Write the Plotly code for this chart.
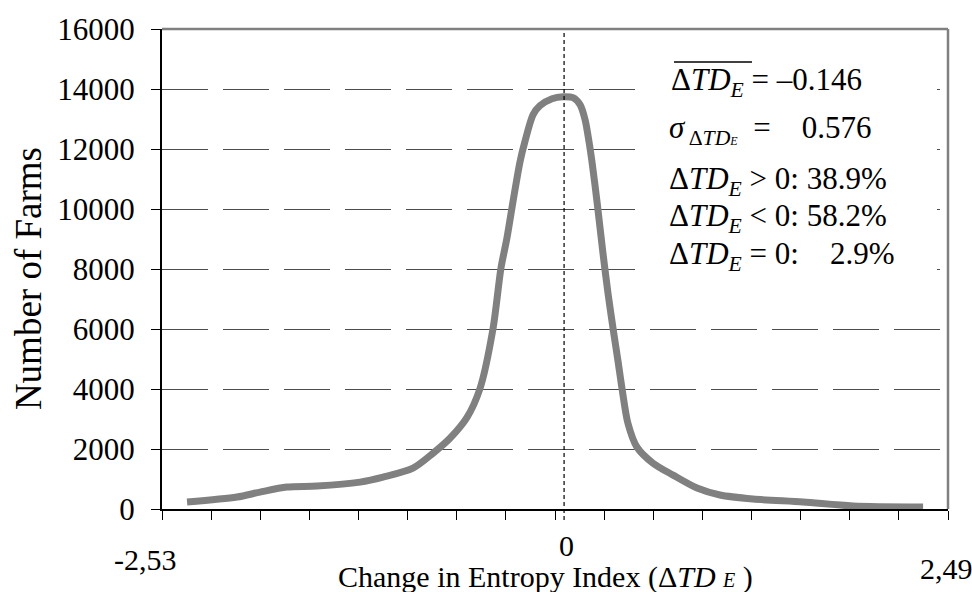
import numpy as np
import plotly.graph_objects as go

# ---- data ----
change_entropy = [-2.408, -2.089, -1.942, -1.770, -1.578, -1.303, -1.156, -0.965,
                  -0.837, -0.729, -0.620, -0.537, -0.454, -0.403, -0.365, -0.326,
                  -0.281, -0.250, -0.198, -0.154, -0.077, -0.007, 0.057, 0.102,
                  0.134, 0.159, 0.178, 0.210, 0.249, 0.281, 0.313, 0.344, 0.370,
                  0.408, 0.466, 0.568, 0.696, 0.849, 0.996, 1.207, 1.526, 1.845, 2.293]
number_of_farms = [232, 398, 564, 730, 763, 896, 1062, 1361,
                   1859, 2357, 3054, 4017, 6008, 8033, 9029, 10257,
                   11585, 12249, 13145, 13444, 13676, 13743, 13710, 13477,
                   12979, 12249, 11585, 10257, 8498, 7170, 6008, 4946, 4017,
                   2855, 2058, 1527, 1129, 697, 465, 332, 232, 100, 66]

x_end_labels = ["-2,53", "0", "2,49"]
y_ticks = [0, 2000, 4000, 6000, 8000, 10000, 12000, 14000, 16000]
stats_lines = [
    "Δ<i>TD</i><sub><i>E</i></sub> = –0.146",
    "<i>σ</i><sub>\u2009Δ<i>TD</i><span style='font-size:12px'><i>E</i></span></sub>\u00a0 =\u00a0\u00a0\u00a0 0.576",
    "Δ<i>TD</i><sub><i>E</i></sub> > 0: 38.9%",
    "Δ<i>TD</i><sub><i>E</i></sub> < 0: 58.2%",
    "Δ<i>TD</i><sub><i>E</i></sub> = 0:\u00a0\u00a0\u00a0 2.9%",
]

X_MIN, X_MAX = -2.568, 2.452
FONT = "Liberation Serif"

fig = go.Figure()
fig.add_trace(go.Scatter(
    x=change_entropy, y=number_of_farms, mode="lines",
    line=dict(color="#808080", width=7, shape="spline", smoothing=0.8),
    hoverinfo="skip", showlegend=False,
))

# white box behind the statistics text
fig.add_shape(type="rect", xref="paper", yref="paper",
              x0=0.6209, x1=0.986, y0=0.450, y1=0.963,
              fillcolor="white", line=dict(width=0), layer="above")

# zero reference line
fig.add_shape(type="line", xref="x", yref="paper", x0=0, x1=0, y0=-0.023, y1=1,
              line=dict(color="black", width=1.2, dash="4px,3px"), layer="above")

# gray top and right border
fig.add_shape(type="line", xref="paper", yref="paper", x0=0, x1=1, y0=1, y1=1,
              line=dict(color="#808080", width=2.5), layer="above")
fig.add_shape(type="line", xref="paper", yref="paper", x0=1, x1=1, y0=0, y1=1,
              line=dict(color="#808080", width=2.5), layer="above")

# overline of the mean symbol
fig.add_shape(type="line", xref="paper", yref="paper", x0=0.6514, x1=0.7506,
              y0=0.9315, y1=0.9315, line=dict(color="black", width=1.5), layer="above")

stat_pos = [(0.645, 0.890), (0.6425, 0.790), (0.6425, 0.6826), (0.6425, 0.6058), (0.6425, 0.527)]
for txt, (xp, yp) in zip(stats_lines, stat_pos):
    fig.add_annotation(text=txt, xref="paper", yref="paper", x=xp, y=yp,
                       xanchor="left", yanchor="middle", showarrow=False,
                       font=dict(family=FONT, size=31, color="black"))

# x end labels
for txt, (xp, yp) in zip(x_end_labels, [(-0.0216, -0.1058), (0.5140, -0.0768), (0.9987, -0.1245)]):
    fig.add_annotation(text=txt, xref="paper", yref="paper", x=xp, y=yp,
                       xanchor="center", yanchor="middle", showarrow=False,
                       font=dict(family=FONT, size=30, color="black"))

# axis titles
fig.add_annotation(text="Change in Entropy Index (Δ<i>TD</i> <span style='font-size:20px'><i>E</i></span> )",
                   xref="paper", yref="paper", x=0.4873, y=-0.141,
                   xanchor="center", yanchor="middle", showarrow=False,
                   font=dict(family=FONT, size=30, color="black"))
fig.add_annotation(text="Number of Farms", xref="paper", yref="paper",
                   x=-0.1705, y=0.481, textangle=-90,
                   xanchor="center", yanchor="middle", showarrow=False,
                   font=dict(family=FONT, size=37, color="black"))

fig.update_xaxes(range=[X_MIN, X_MAX], showgrid=False, zeroline=False,
                 showline=True, linecolor="black", linewidth=1.5,
                 tickmode="array", tickvals=list(np.linspace(X_MIN, X_MAX, 17)),
                 ticks="outside", ticklen=9, tickcolor="black", tickwidth=1,
                 showticklabels=False)
fig.update_yaxes(range=[0, 16000], tickvals=y_ticks, ticktext=[str(v) for v in y_ticks],
                 showgrid=True, gridcolor="#4d4d4d", gridwidth=1, griddash="46px,15px",
                 zeroline=False, showline=True, linecolor="black", linewidth=2,
                 ticks="outside", ticklen=9, tickcolor="black", tickwidth=1,
                 ticklabelstandoff=10,
                 tickfont=dict(family=FONT, size=31, color="black"))

fig.update_layout(width=972, height=592, margin=dict(l=162, r=24, t=27, b=83),
                  paper_bgcolor="white", plot_bgcolor="white", showlegend=False)

fig.write_html("out.html", config={"displayModeBar": False},
               post_script="document.body.style.margin='0px';document.body.style.padding='0px';")
